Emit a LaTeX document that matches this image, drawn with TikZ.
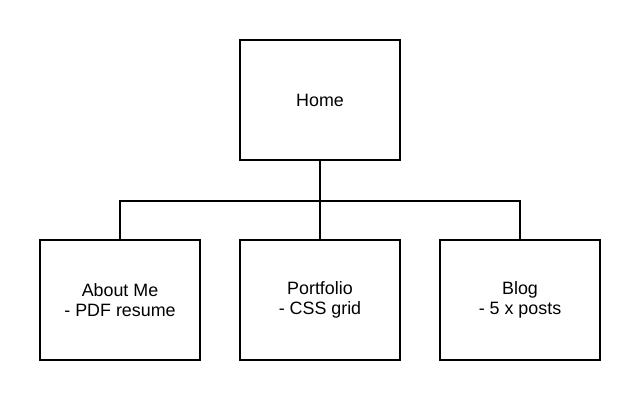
\documentclass[tikz,border=0pt]{standalone}
\usepackage{fontspec}
\setmainfont{Liberation Sans}
\usetikzlibrary{positioning}
\begin{document}
\begin{tikzpicture}[x=0.75pt,y=0.75pt,line join=miter,font=\fontsize{13.4}{15.2}\selectfont]
				\tikzset{
					page/.style={draw=black,line width=1.5pt,fill=white,align=center,inner sep=0pt},
					wide/.style={page,minimum width=120pt,minimum height=90pt},
					link/.style={line width=1.5pt}
				}
				\useasboundingbox (0,0) rectangle (640,400);
				\node[wide] (home) at (320,300) {Home};
				\node[wide] (about) at (120,100) {About Me\\- PDF resume};
				\node[wide] (port) at (320,100) {Portfolio\\- CSS grid};
				\node[wide] (blog) at (520,100) {Blog\\- 5 x posts};
				% tree links
				\path (home.south)++(0,-40) coordinate (split);
				\draw[link] (home.south)--(split);
				\draw[link] (about.north)|-(split)-|(blog.north);
				\draw[link] (split)--(port.north);
			\end{tikzpicture}
\end{document}
